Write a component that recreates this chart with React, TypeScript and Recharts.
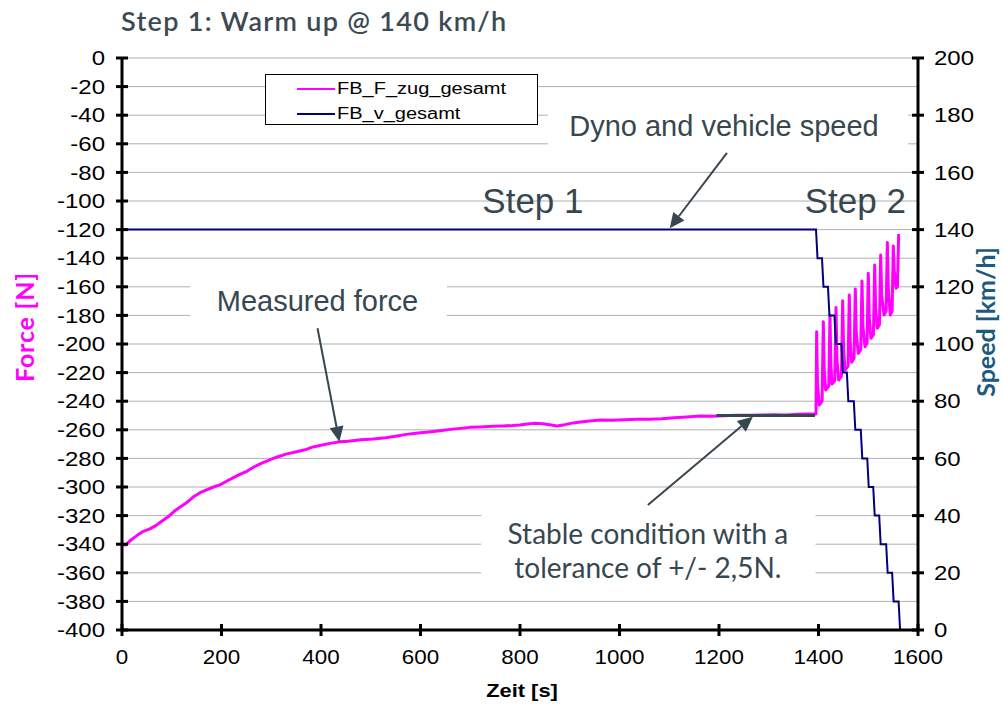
import React from 'react';
import {
  LineChart,
  Line,
  XAxis,
  YAxis,
  CartesianGrid,
  ReferenceLine,
  ReferenceArea,
  ReferenceDot,
  Legend,
} from 'recharts';

// ---- data ----
const forceTimeStep1 = [0, 8, 18, 30, 43, 55, 68, 80, 92, 105, 117, 130, 143, 157, 170, 184, 197, 210, 224, 238, 251, 265, 280, 297, 312, 330, 351, 368, 384, 398, 418, 438, 455, 480, 505, 530, 550, 572, 595, 617, 639, 660, 680, 699, 720, 745, 766, 785, 800, 815, 827, 845, 860, 874, 890, 910, 935, 961, 985, 1010, 1035, 1061, 1085, 1110, 1135, 1162, 1185, 1210, 1235, 1262, 1285, 1310, 1335, 1360, 1375, 1390, 1394];
const forceValueStep1 = [-340, -340.5, -337, -334, -331, -329.5, -327, -324, -321, -317, -314, -311, -307, -304, -302, -300, -298.5, -296, -293.5, -291, -289, -286, -283.5, -281, -279, -277, -275.3, -274, -272, -271, -269.5, -268.3, -268, -267, -266.5, -265.5, -264.5, -263.2, -262.3, -261.5, -260.6, -259.7, -259, -258.3, -258, -257.6, -257.3, -257, -256.6, -256, -255.5, -255.8, -256.5, -257.3, -256.4, -255, -254, -253.1, -253.3, -253, -252.6, -252.7, -252.3, -251.5, -251, -250.3, -250.6, -250.2, -249.9, -249.9, -249.7, -249.4, -249.6, -249.2, -249, -249, -249];

const forceTimeStep2 = [1395, 1396.3, 1398, 1401.7, 1407.2, 1409.7, 1411.5, 1414.4, 1420.6, 1423.1, 1424.9, 1427.1, 1432.7, 1435.2, 1437.1, 1440.6, 1446.1, 1448.6, 1450.5, 1453.3, 1459.4, 1461.9, 1463.8, 1466.7, 1471.5, 1474, 1476, 1480, 1484.9, 1487.4, 1489.4, 1493.5, 1497.6, 1500.1, 1502.1, 1505.5, 1510.4, 1512.9, 1514.9, 1518.2, 1522.5, 1525, 1527, 1531.7, 1535.9, 1538.4, 1540.4, 1544.3, 1547.9, 1550.4, 1552.4, 1556, 1558.7, 1561.2];
const forceValueStep2 = [-249, -191.4, -228, -242.7, -240, -184.4, -218, -232.2, -229.5, -179.7, -215, -228, -225.5, -174.4, -211, -225.2, -222.5, -169.7, -204, -218.2, -215.5, -165.7, -199, -212.8, -210, -161.5, -193, -206.5, -204, -155.9, -188, -201.9, -199.5, -150.6, -182, -196, -193.5, -144.8, -175, -189, -186.5, -137.8, -166, -179.7, -177, -129.1, -162, -179.7, -177, -131.5, -150, -161, -160, -123.1];

const speedTime = [0, 1395, 1398, 1407, 1410, 1419, 1422, 1432, 1435, 1446, 1449, 1457, 1460, 1471, 1474, 1485, 1488, 1498, 1501, 1510, 1513, 1522, 1525, 1536, 1539, 1548, 1551, 1561, 1564, 1570];
const speedValue = [140, 140, 130, 130, 120, 120, 110, 110, 100, 100, 90, 90, 80, 80, 70, 70, 60, 60, 50, 50, 40, 40, 30, 30, 20, 20, 10, 10, 0, 0];

const timeTicks = [0, 200, 400, 600, 800, 1000, 1200, 1400, 1600];
const forceTicks = [0, -20, -40, -60, -80, -100, -120, -140, -160, -180, -200, -220, -240, -260, -280, -300, -320, -340, -360, -380, -400];
const speedTicks = [0, 20, 40, 60, 80, 100, 120, 140, 160, 180, 200];

const seriesNames = ['FB_F_zug_gesamt', 'FB_v_gesamt'];
const seriesColors = ['#ff00ff', '#000080'];

const titleText = 'Step 1: Warm up @ 140 km/h';
const xTitle = 'Zeit [s]';
const leftTitle = 'Force [N]';
const rightTitle = 'Speed [km/h]';

// ---- tables built from the arrays ----
const forceValues = [...forceValueStep1, ...forceValueStep2];
const forceData = [...forceTimeStep1, ...forceTimeStep2].map((t, i) => ({ t, f: forceValues[i] }));
const speedData = speedTime.map((t, i) => ({ t, v: speedValue[i] }));

const ANNO = '#37474f';
const TICK_FONT = '"Liberation Sans", Arial, sans-serif';
const GEO_FONT = 'Lato, "Open Sans", sans-serif';
const STRETCH = 1.2;

const LeftTick = (p: any) => {
  const { x, y, payload } = p;
  return (
    <g>
      <line x1={x - 6} x2={x + 6} y1={y} y2={y} stroke="#000" strokeWidth={3} />
      <text
        transform={`translate(${x - 17},${y}) scale(${STRETCH},1)`}
        x={0}
        y={0}
        dy="0.36em"
        textAnchor="end"
        fontSize={20}
        fontFamily={TICK_FONT}
        fill="#000"
      >
        {payload.value}
      </text>
    </g>
  );
};

const RightTick = (p: any) => {
  const { x, y, payload } = p;
  return (
    <g>
      <line x1={x - 6} x2={x + 6} y1={y} y2={y} stroke="#000" strokeWidth={3} />
      <text
        transform={`translate(${x + 16},${y}) scale(${STRETCH},1)`}
        x={0}
        y={0}
        dy="0.36em"
        textAnchor="start"
        fontSize={20}
        fontFamily={TICK_FONT}
        fill="#000"
      >
        {payload.value}
      </text>
    </g>
  );
};

const BottomTick = (p: any) => {
  const { x, y, payload } = p;
  return (
    <g>
      <line x1={x} x2={x} y1={y - 6} y2={y + 6} stroke="#000" strokeWidth={3} />
      <text
        transform={`translate(${x},${y + 34}) scale(1.12,1)`}
        x={0}
        y={0}
        textAnchor="middle"
        fontSize={20}
        fontFamily={TICK_FONT}
        fill="#000"
      >
        {payload.value}
      </text>
    </g>
  );
};

const Arrow = (p: any) => {
  const { x1, y1, x2, y2 } = p;
  const ang = Math.atan2(y2 - y1, x2 - x1);
  const L = 15;
  const W = 7;
  const bx = x2 - L * Math.cos(ang);
  const by = y2 - L * Math.sin(ang);
  const px = -Math.sin(ang) * W;
  const py = Math.cos(ang) * W;
  return (
    <g>
      <line x1={x1} y1={y1} x2={bx} y2={by} stroke={ANNO} strokeWidth={2} />
      <polygon points={`${x2},${y2} ${bx + px},${by + py} ${bx - px},${by - py}`} fill={ANNO} />
    </g>
  );
};

const StableLine = (p: any) => {
  const { x1, y1, x2, y2 } = p;
  return <line x1={x1} y1={y1} x2={x2} y2={y2} stroke={ANNO} strokeWidth={3} />;
};

const textShape = (lines: string[], size: number, family: string, lineH: number) => (p: any) => (
  <text x={p.cx} y={p.cy} textAnchor="middle" fontSize={size} fontFamily={family} fill={ANNO}>
    {lines.map((l, i) => (
      <tspan key={i} x={p.cx} dy={i === 0 ? 0 : lineH}>
        {l}
      </tspan>
    ))}
  </text>
);

const LegendBox = () => (
  <div
    style={{
      width: 271,
      height: 49,
      border: '1px solid #000',
      background: '#fff',
      position: 'relative',
      fontFamily: TICK_FONT,
    }}
  >
    {seriesNames.map((n, i) => (
      <div key={n} style={{ position: 'absolute', left: 31, top: 4 + i * 25, height: 20, display: 'flex', alignItems: 'center' }}>
        <div style={{ width: 38, height: 2, background: seriesColors[i] }} />
        <div style={{ fontSize: 16, marginLeft: 2, transform: 'scaleX(1.25)', transformOrigin: 'left center', whiteSpace: 'nowrap', color: '#000' }}>
          {n}
        </div>
      </div>
    ))}
  </div>
);

export default function App() {
  return (
    <div style={{ position: 'absolute', left: 0, top: 0, width: 1003, height: 707, background: '#fff', overflow: 'hidden' }}>
      <LineChart width={1003} height={707} margin={{ top: 58, right: 35, left: 62, bottom: 37 }}>
        <CartesianGrid yAxisId="force" vertical={false} stroke="#b0b0b0" strokeWidth={1} />
        <XAxis
          dataKey="t"
          type="number"
          domain={[0, 1600]}
          ticks={timeTicks}
          allowDataOverflow
          height={40}
          tickSize={0}
          tickMargin={0}
          tickLine={false}
          tick={<BottomTick />}
          axisLine={{ stroke: '#000', strokeWidth: 3 }}
        />
        <YAxis
          yAxisId="force"
          domain={[-400, 0]}
          ticks={forceTicks}
          allowDataOverflow
          width={60}
          tickSize={0}
          tickMargin={0}
          tickLine={false}
          tick={<LeftTick />}
          axisLine={{ stroke: '#000', strokeWidth: 3 }}
        />
        <YAxis
          yAxisId="speed"
          orientation="right"
          domain={[0, 200]}
          ticks={speedTicks}
          allowDataOverflow
          width={50}
          tickSize={0}
          tickMargin={0}
          tickLine={false}
          tick={<RightTick />}
          axisLine={{ stroke: '#000', strokeWidth: 3 }}
        />

        {/* white text boxes over the grid */}
        <ReferenceArea yAxisId="force" x1={856} x2={1580} y1={-28} y2={-72} fill="#fff" fillOpacity={1} stroke="none" />
        <ReferenceArea yAxisId="force" x1={137} x2={653} y1={-147} y2={-193} fill="#fff" fillOpacity={1} stroke="none" />
        <ReferenceArea yAxisId="force" x1={722} x2={1394} y1={-306} y2={-373} fill="#fff" fillOpacity={1} stroke="none" />

        <Line
          data={forceData}
          dataKey="f"
          name={seriesNames[0]}
          yAxisId="force"
          stroke={seriesColors[0]}
          strokeWidth={3}
          strokeLinejoin="round"
          dot={false}
          isAnimationActive={false}
        />
        <Line
          data={speedData}
          dataKey="v"
          name={seriesNames[1]}
          yAxisId="speed"
          stroke={seriesColors[1]}
          strokeWidth={2}
          dot={false}
          isAnimationActive={false}
        />

        <ReferenceLine yAxisId="force" segment={[{ x: 1195, y: -250 }, { x: 1393, y: -250 }]} shape={StableLine} />
        <ReferenceLine yAxisId="force" segment={[{ x: 1216, y: -66.4 }, { x: 1101, y: -119 }]} shape={Arrow} />
        <ReferenceLine yAxisId="force" segment={[{ x: 393, y: -189 }, { x: 437, y: -268.3 }]} shape={Arrow} />
        <ReferenceLine yAxisId="force" segment={[{ x: 1057, y: -312.6 }, { x: 1268, y: -250.8 }]} shape={Arrow} />

        <ReferenceDot yAxisId="force" x={826} y={-108.4} r={0} shape={textShape(['Step 1'], 35, TICK_FONT, 0)} />
        <ReferenceDot yAxisId="force" x={1474} y={-108.4} r={0} shape={textShape(['Step 2'], 35, TICK_FONT, 0)} />
        <ReferenceDot yAxisId="force" x={1210} y={-54.5} r={0} shape={textShape(['Dyno and vehicle speed'], 29, TICK_FONT, 0)} />
        <ReferenceDot yAxisId="force" x={393} y={-177} r={0} shape={textShape(['Measured force'], 29, TICK_FONT, 0)} />
        <ReferenceDot
          yAxisId="force"
          x={1057}
          y={-340}
          r={0}
          shape={textShape(['Stable condition with a', 'tolerance of +/- 2,5N.'], 28, GEO_FONT, 34)}
        />

        <Legend
          layout="vertical"
          align="center"
          verticalAlign="middle"
          content={<LegendBox />}
          wrapperStyle={{ left: 265, top: 74, width: 273, height: 51 }}
        />
      </LineChart>

      <div
        style={{
          position: 'absolute',
          left: 121,
          top: 4,
          fontFamily: GEO_FONT,
          fontWeight: 600,
          fontSize: 27,
          letterSpacing: 1.3,
          color: '#3c4a54',
          whiteSpace: 'nowrap',
        }}
      >
        {titleText}
      </div>
      <div
        style={{
          position: 'absolute',
          left: 522,
          top: 691,
          transform: 'translate(-50%, -50%) scaleX(1.15)',
          fontFamily: TICK_FONT,
          fontWeight: 700,
          fontSize: 19,
          color: '#000',
          whiteSpace: 'nowrap',
        }}
      >
        {xTitle}
      </div>
      <div
        style={{
          position: 'absolute',
          left: 24,
          top: 327,
          transform: 'translate(-50%, -50%) rotate(-90deg)',
          fontFamily: GEO_FONT,
          fontWeight: 700,
          fontSize: 25,
          letterSpacing: 0.8,
          color: '#ff00ff',
          whiteSpace: 'nowrap',
        }}
      >
        {leftTitle}
      </div>
      <div
        style={{
          position: 'absolute',
          left: 985,
          top: 322,
          transform: 'translate(-50%, -50%) rotate(-90deg)',
          fontFamily: GEO_FONT,
          fontWeight: 700,
          fontSize: 25,
          color: '#1d5a80',
          whiteSpace: 'nowrap',
        }}
      >
        {rightTitle}
      </div>
    </div>
  );
}
